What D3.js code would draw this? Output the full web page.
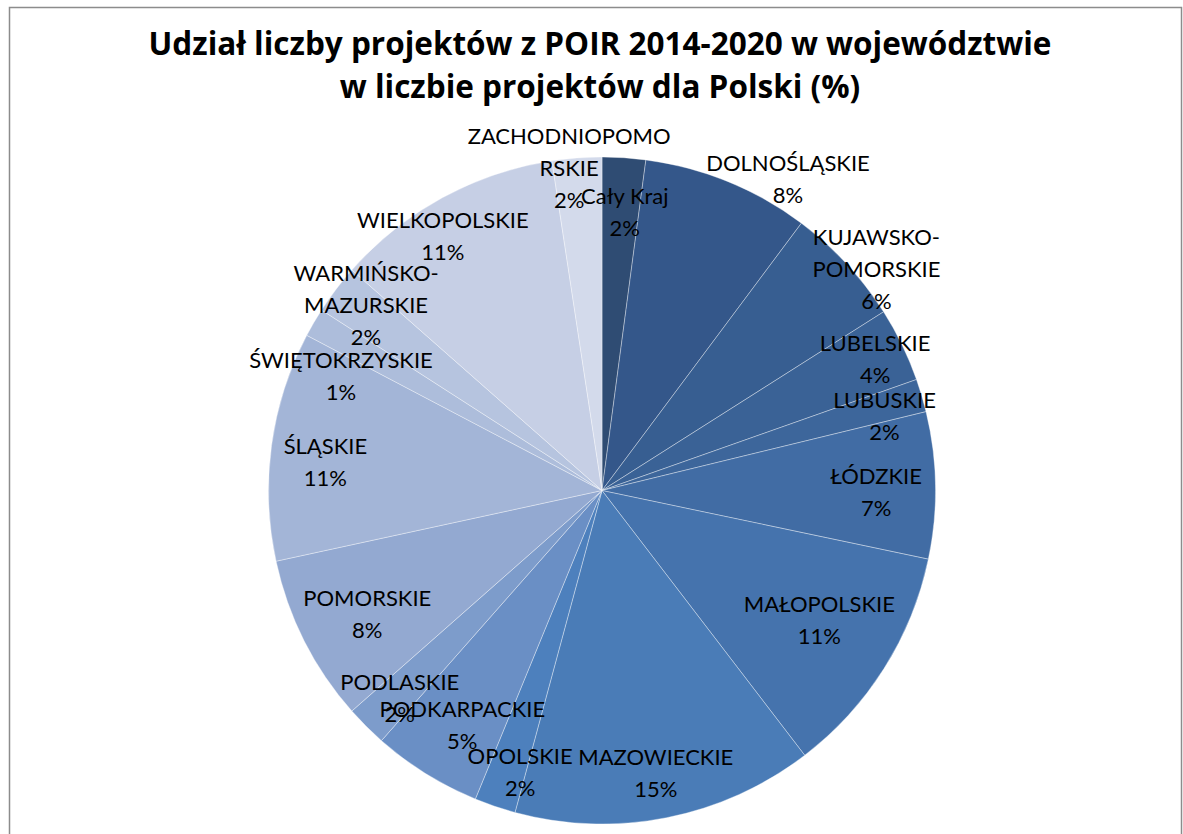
<!DOCTYPE html>
<html>
<head>
<meta charset="utf-8">
<script src="https://cdn.jsdelivr.net/npm/d3@7"></script>
<style>
  body { margin: 0; background: #fff; }
  .title { font-family: "Open Sans", Lato, sans-serif; font-weight: bold; fill: #000; }
  .slice_label { font-family: Lato, "Liberation Sans", sans-serif; fill: #000; }
</style>
</head>
<body>
<div id="chart"></div>
<script>
// data
var regions = ["Cały Kraj", "DOLNOŚLĄSKIE", "KUJAWSKO-POMORSKIE", "LUBELSKIE", "LUBUSKIE",
  "ŁÓDZKIE", "MAŁOPOLSKIE", "MAZOWIECKIE", "OPOLSKIE", "PODKARPACKIE", "PODLASKIE",
  "POMORSKIE", "ŚLĄSKIE", "ŚWIĘTOKRZYSKIE", "WARMIŃSKO-MAZURSKIE", "WIELKOPOLSKIE",
  "ZACHODNIOPOMORSKIE"];
var shares = [2.1, 8.1, 5.8, 3.6, 1.6, 7.1, 11.3, 14.6, 2.0, 5.3, 2.0, 8.1, 11.1, 1.4, 2.4, 11.1, 2.4];
var sliceColors = ["#2f4c73", "#34578a", "#375e91", "#3a6296", "#3d669b", "#416ca4", "#4573ad",
  "#4a7cb7", "#4d80bd", "#6a8fc5", "#7d9ccb", "#93a9d1", "#a3b5d7", "#adbddb", "#b6c4df",
  "#c6cfe5", "#d3daeb"];
var titleLines = ["Udział liczby projektów z POIR 2014-2020 w województwie",
  "w liczbie projektów dla Polski (%)"];

// layout
var viewBox = {width: 1183, height: 834},
    center = {x: 602, y: 490.5},
    radius = 333.5,
    lineGap = 32;

// where excel put each label: [radius fraction, angle offset from slice middle in degrees]
var labelPlace = {
  "Cały Kraj": [0.838, 0.9],
  "DOLNOŚLĄSKIE": [1.088, 8.7],
  "KUJAWSKO-POMORSKIE": [1.058, 3.9],
  "LUBELSKIE": [0.909, 0.2],
  "LUBUSKIE": [0.876, 1.8],
  "ŁÓDZKIE": [0.822, 1.2],
  "MAŁOPOLSKIE": [0.759, -1.4],
  "MAZOWIECKIE": [0.864, 0.4],
  "OPOLSKIE": [0.879, -2.5],
  "PODKARPACKIE": [0.819, -1.1],
  "PODLASKIE": [0.870, -0.8],
  "POMORSKIE": [0.795, -0.9],
  "ŚLĄSKIE": [0.834, -1.8],
  "ŚWIĘTOKRZYSKIE": [0.855, -6.5],
  "WARMIŃSKO-MAZURSKIE": [0.900, 1.1],
  "WIELKOPOLSKIE": [0.900, -3.4],
  "ZACHODNIOPOMORSKIE": [0.972, -1.5]
};

var svg = d3.select("#chart")
  .append("svg")
  .attr("width", viewBox.width)
  .attr("height", viewBox.height);

// chart frame
svg.append("rect")
  .attr("x", 9.5)
  .attr("y", 7.5)
  .attr("width", 1172)
  .attr("height", 840)
  .attr("fill", "#fff")
  .attr("stroke", "#8c8c8c")
  .attr("stroke-width", 1.5);

// title
svg.selectAll(".title")
  .data(titleLines)
  .enter()
  .append("text")
    .attr("class", "title")
    .attr("x", 600)
    .attr("y", function(d, i){ return 55 + i*43; })
    .attr("text-anchor", "middle")
    .style("font-size", "31.5px")
    .text(function(d){ return d; });

var total = d3.sum(shares);
var rows = regions.map(function(r, i){ return {name: r, value: shares[i], color: sliceColors[i]}; });

var pie = d3.pie()
  .sort(null)
  .value(function(d){ return d.value; });

var arc = d3.arc()
  .innerRadius(0)
  .outerRadius(radius);

var g = svg.append("g")
  .attr("transform", "translate(" + center.x + "," + center.y + ")");

var arcs = pie(rows);

g.selectAll(".slice")
  .data(arcs)
  .enter()
  .append("path")
    .attr("class", "slice")
    .attr("d", arc)
    .attr("fill", function(d){ return d.data.color; })
    .attr("stroke", "#fff")
    .attr("stroke-opacity", 0.45)
    .attr("stroke-width", 0.8);

// split long names the way excel wrapped them
function wrapName(name){
  if (name.indexOf("-") > 0){
    var k = name.indexOf("-") + 1;
    return [name.slice(0, k), name.slice(k)];
  }
  if (name.length > 14){
    return [name.slice(0, 13), name.slice(13)];
  }
  return [name];
}

arcs.forEach(function(d){
  var place = labelPlace[d.data.name] || [0.85, 0];
  var a = (d.startAngle + d.endAngle)/2 + place[1]*Math.PI/180;
  var lr = radius*place[0];
  var lx = Math.sin(a)*lr,
      ly = -Math.cos(a)*lr;
  var lines = wrapName(d.data.name);
  lines.push(Math.round(d.data.value/total*100) + "%");
  var top = ly - (lines.length - 1)*lineGap/2;
  var t = g.append("text")
    .attr("class", "slice_label")
    .attr("text-anchor", "middle")
    .style("font-size", "22px");
  lines.forEach(function(line, j){
    t.append("tspan")
      .attr("x", lx)
      .attr("y", top + j*lineGap)
      .attr("dy", "0.36em")
      .text(line);
  });
});
</script>
</body>
</html>
